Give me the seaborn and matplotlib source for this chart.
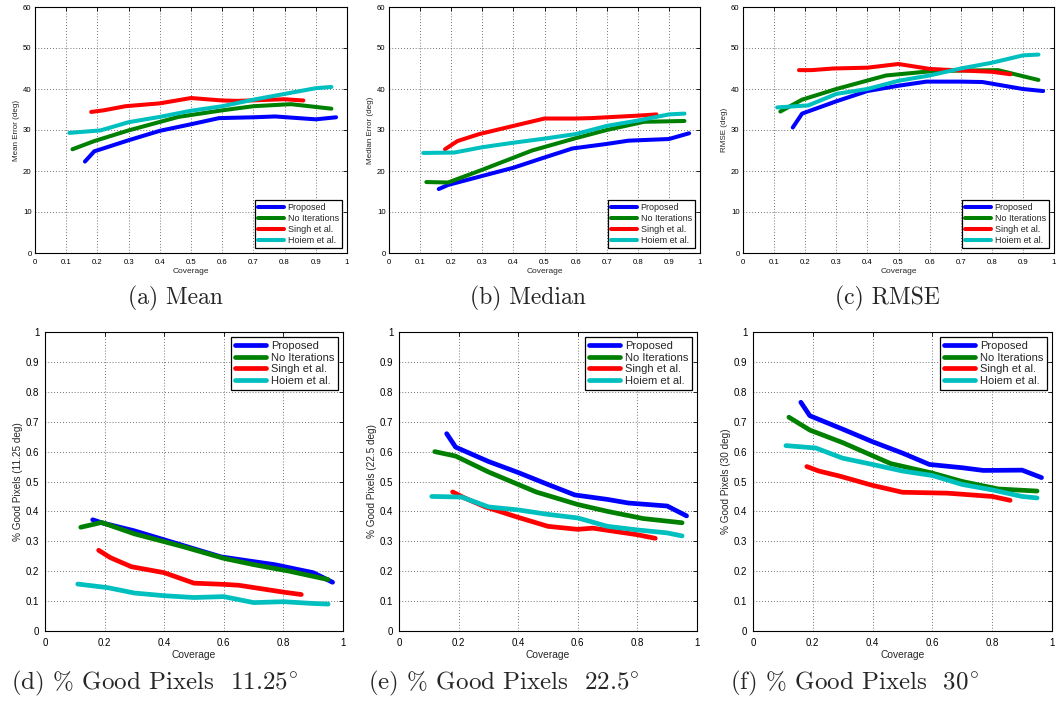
import numpy as np
import pandas as pd
import matplotlib
matplotlib.use("Agg")
import matplotlib.pyplot as plt
import seaborn as sns

# Curvas de erro / % de pixels bons em função da cobertura (6 painéis)

metodos = ["Proposed", "No Iterations", "Singh et al.", "Hoiem et al."]
cores = ["#0000ff", "#008000", "#ff0000", "#00bfbf"]

# cobertura de cada método (igual em todos os painéis)
cob_prop = [0.16, 0.19, 0.30, 0.40, 0.50, 0.59, 0.70, 0.77, 0.90, 0.965]
cob_noit = [0.12, 0.19, 0.30, 0.46, 0.60, 0.70, 0.82, 0.95]
cob_singh = [0.18, 0.22, 0.29, 0.40, 0.50, 0.60, 0.65, 0.80, 0.86]
cob_hoiem = [0.11, 0.21, 0.30, 0.40, 0.50, 0.60, 0.70, 0.80, 0.90, 0.95]

# (a) Mean
mean_prop = [22.3, 24.8, 27.5, 29.8, 31.4, 32.9, 33.1, 33.3, 32.6, 33.1]
mean_noit = [25.3, 27.3, 29.9, 33.2, 34.8, 35.8, 36.3, 35.2]
mean_singh = [34.4, 34.8, 35.8, 36.5, 37.8, 37.2, 37.1, 37.5, 37.2]
mean_hoiem = [29.3, 29.9, 31.9, 33.2, 34.7, 35.8, 37.4, 38.8, 40.2, 40.5]

# (b) Median
med_prop = [15.6, 16.6, 18.8, 20.8, 23.3, 25.5, 26.6, 27.4, 27.8, 29.2]
med_noit = [17.3, 17.2, 20.3, 25.0, 28.0, 30.0, 32.0, 32.2]
med_singh = [25.3, 27.3, 29.0, 31.0, 32.8, 32.8, 32.9, 33.5, 33.8]
med_hoiem = [24.4, 24.5, 25.8, 26.9, 27.9, 29.0, 31.0, 32.3, 33.8, 34.0]

# (c) RMSE
rmse_prop = [30.6, 34.0, 37.0, 39.5, 40.8, 41.8, 41.8, 41.7, 40.0, 39.5]
rmse_noit = [34.5, 37.4, 40.0, 43.3, 44.3, 44.5, 44.6, 42.2]
rmse_singh = [44.6, 44.6, 45.0, 45.2, 46.1, 44.9, 44.7, 44.2, 43.6]
rmse_hoiem = [35.5, 36.0, 38.8, 40.0, 42.0, 43.3, 45.0, 46.4, 48.2, 48.4]

# (d) % Good Pixels 11.25
g11_prop = [0.372, 0.362, 0.335, 0.305, 0.275, 0.248, 0.232, 0.222, 0.195, 0.163]
g11_noit = [0.347, 0.363, 0.325, 0.283, 0.243, 0.222, 0.200, 0.172]
g11_singh = [0.270, 0.245, 0.215, 0.195, 0.160, 0.156, 0.153, 0.130, 0.122]
g11_hoiem = [0.157, 0.145, 0.127, 0.118, 0.112, 0.115, 0.095, 0.098, 0.092, 0.090]

# (e) % Good Pixels 22.5
g22_prop = [0.660, 0.615, 0.567, 0.530, 0.490, 0.455, 0.440, 0.428, 0.418, 0.385]
g22_noit = [0.600, 0.585, 0.532, 0.465, 0.423, 0.400, 0.376, 0.362]
g22_singh = [0.465, 0.445, 0.415, 0.380, 0.350, 0.340, 0.344, 0.322, 0.310]
g22_hoiem = [0.450, 0.448, 0.415, 0.405, 0.390, 0.378, 0.350, 0.338, 0.328, 0.318]

# (f) % Good Pixels 30
g30_prop = [0.765, 0.720, 0.675, 0.633, 0.595, 0.557, 0.546, 0.537, 0.538, 0.513]
g30_noit = [0.715, 0.672, 0.630, 0.560, 0.528, 0.500, 0.475, 0.468]
g30_singh = [0.550, 0.535, 0.518, 0.487, 0.464, 0.462, 0.461, 0.450, 0.437]
g30_hoiem = [0.620, 0.612, 0.578, 0.557, 0.535, 0.520, 0.490, 0.472, 0.450, 0.445]

coberturas = [cob_prop, cob_noit, cob_singh, cob_hoiem]

paineis = [
    ("Mean Error (deg)", r"(a) Mean", [mean_prop, mean_noit, mean_singh, mean_hoiem]),
    ("Median Error (deg)", r"(b) Median", [med_prop, med_noit, med_singh, med_hoiem]),
    ("RMSE (deg)", r"(c) RMSE", [rmse_prop, rmse_noit, rmse_singh, rmse_hoiem]),
    ("% Good Pixels (11.25 deg)", r"(d) % Good Pixels  11.25$^{\circ}$", [g11_prop, g11_noit, g11_singh, g11_hoiem]),
    ("% Good Pixels (22.5 deg)", r"(e) % Good Pixels  22.5$^{\circ}$", [g22_prop, g22_noit, g22_singh, g22_hoiem]),
    ("% Good Pixels (30 deg)", r"(f) % Good Pixels  30$^{\circ}$", [g30_prop, g30_noit, g30_singh, g30_hoiem]),
]

sns.set_theme(style="white")
plt.rcParams["font.family"] = ["Liberation Sans", "DejaVu Sans"]
plt.rcParams["mathtext.fontset"] = "cm"

W, H = 1056, 707
fig = plt.figure(figsize=(W / 100, H / 100), dpi=100)

# posições dos eixos em pixels: esquerda, direita, topo, base
caixas = [
    (35, 347, 7, 253), (389, 700, 7, 253), (743, 1054, 7, 253),
    (45, 343, 332, 631), (399, 697, 332, 631), (753, 1052, 332, 631),
]
# centro horizontal das legendas (a)...(f)
centros = [175, 528, 887, 154, 504, 854]

for i, ((ylab, legenda, valores), (x0, x1, y0, y1)) in enumerate(zip(paineis, caixas)):
    topo = i < 3
    ax = fig.add_axes([x0 / W, 1 - y1 / H, (x1 - x0) / W, (y1 - y0) / H])

    linhas = []
    for m, cob, v in zip(metodos, coberturas, valores):
        linhas.append(pd.DataFrame({"Coverage": cob, "val": v, "Method": m}))
    df = pd.concat(linhas, ignore_index=True)

    sns.lineplot(
        data=df, x="Coverage", y="val", hue="Method", hue_order=metodos,
        palette=cores, sort=False, estimator=None, legend=False,
        linewidth=2.9 if topo else 3.4, ax=ax,
    )

    fs = 5.6 if topo else 7.0
    ax.set_xlim(0, 1)
    if topo:
        xt = np.arange(0, 1.01, 0.1)
        ax.set_xticks(xt, ["0"] + [f"{t:.1f}" for t in xt[1:-1]] + ["1"])
        ax.set_ylim(0, 60)
        ax.set_yticks(np.arange(0, 61, 10))
    else:
        xt = np.arange(0, 1.01, 0.2)
        ax.set_xticks(xt, ["0"] + [f"{t:.1f}" for t in xt[1:-1]] + ["1"])
        ax.set_ylim(0, 1)
        yt = np.arange(0, 1.01, 0.1)
        ax.set_yticks(yt, ["0"] + [f"{t:.1f}" for t in yt[1:-1]] + ["1"])

    ax.tick_params(direction="in", length=3, width=0.6, labelsize=fs,
                   top=True, right=True, colors="black")
    ax.tick_params(axis="x", pad=4 if topo else 5)
    ax.tick_params(axis="y", pad=2.5 if topo else 4)
    ax.grid(True, linestyle=(0, (1, 2.5)), color="#444444", linewidth=0.6)
    for s in ax.spines.values():
        s.set_color("black")
        s.set_linewidth(0.8)

    ax.set_xlabel("Coverage", fontsize=fs + 0.4, labelpad=1.5)
    ax.set_ylabel(ylab, fontsize=fs + 0.2, labelpad=2)

    leg = ax.legend(
        ax.get_lines(), metodos,
        loc="lower right" if topo else "upper right",
        fontsize=6.5 if topo else 8.0,
        frameon=True, fancybox=False, framealpha=1, edgecolor="black",
        handlelength=2.9 if topo else 2.8, handletextpad=0.4,
        labelspacing=0.2 if topo else 0.15, borderpad=0.35,
        borderaxespad=0.55 if topo else 0.45,
    )
    leg.get_frame().set_linewidth(0.9)

    cx = centros[i] / W
    cy = 1 - (298 if topo else 683) / H
    fig.text(cx, cy, legenda, ha="center", va="center",
             fontsize=17 if topo else 18, family=["cmr10", "DejaVu Serif"])

fig.savefig("out.png", dpi=100)
